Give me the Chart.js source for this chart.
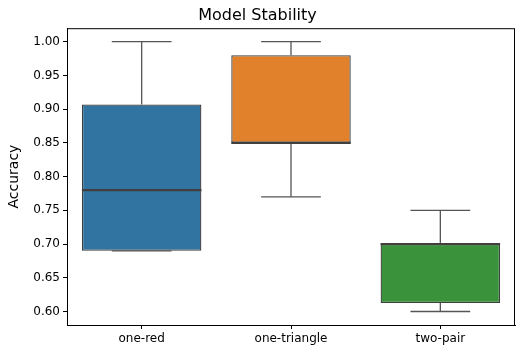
<!DOCTYPE html>
<html>
<head>
<meta charset="utf-8">
<script src="https://cdn.jsdelivr.net/npm/chart.js@4"></script>
<style>
  html, body { margin: 0; padding: 0; background: #fff; }
  #wrap { width: 516px; height: 347px; }
</style>
</head>
<body>
<div id="wrap"><canvas id="chart" width="516" height="347"></canvas></div>
<script>
// box plot stats per category
const categories = ['one-red', 'one-triangle', 'two-pair'];
const mins    = [0.69, 0.77, 0.60];
const q1s     = [0.69, 0.85, 0.6125];
const medians = [0.78, 0.85, 0.70];
const q3s     = [0.907, 0.98, 0.70];
const maxs    = [1.00, 1.00, 0.75];
const yTicks  = [0.60, 0.65, 0.70, 0.75, 0.80, 0.85, 0.90, 0.95, 1.00];
const boxColors = ['#3274a1', '#e1812c', '#3a923a'];

const FONT = "'DejaVu Sans', sans-serif";
const EDGE = '#3f3f3f';
const WHISKER = '#555555';

// whiskers, caps, medians and the full frame
const boxExtras = {
  id: 'boxExtras',
  afterDatasetsDraw(chart) {
    const ctx = chart.ctx;
    const x = chart.scales.x, y = chart.scales.y;
    const meta = chart.getDatasetMeta(0);
    ctx.save();
    categories.forEach((c, i) => {
      const bar = meta.data[i];
      const cx = x.getPixelForValue(i);
      const half = bar.width / 2;
      const capHalf = half / 2;
      ctx.strokeStyle = WHISKER;
      ctx.lineWidth = 1.3;
      ctx.beginPath();
      ctx.moveTo(cx, y.getPixelForValue(q3s[i]));
      ctx.lineTo(cx, y.getPixelForValue(maxs[i]));
      ctx.moveTo(cx, y.getPixelForValue(q1s[i]));
      ctx.lineTo(cx, y.getPixelForValue(mins[i]));
      ctx.moveTo(cx - capHalf, y.getPixelForValue(maxs[i]));
      ctx.lineTo(cx + capHalf, y.getPixelForValue(maxs[i]));
      ctx.moveTo(cx - capHalf, y.getPixelForValue(mins[i]));
      ctx.lineTo(cx + capHalf, y.getPixelForValue(mins[i]));
      ctx.stroke();
      ctx.strokeStyle = EDGE;
      ctx.lineWidth = 2.2;
      ctx.beginPath();
      ctx.moveTo(cx - half, y.getPixelForValue(medians[i]));
      ctx.lineTo(cx + half, y.getPixelForValue(medians[i]));
      ctx.stroke();
    });
    const a = chart.chartArea;
    ctx.strokeStyle = '#000';
    ctx.lineWidth = 1;
    ctx.strokeRect(a.left + 0.5, a.top + 0.5, a.right - a.left - 1, a.bottom - a.top);
    ctx.restore();
  }
};

new Chart(document.getElementById('chart'), {
  type: 'bar',
  data: {
    labels: categories,
    datasets: [{
      data: categories.map((c, i) => [q1s[i], q3s[i]]),
      backgroundColor: boxColors,
      borderColor: EDGE,
      borderWidth: 1.3,
      borderSkipped: false,
      categoryPercentage: 1.0,
      barPercentage: 0.8
    }]
  },
  options: {
    responsive: false,
    animation: false,
    layout: { padding: { left: 0, right: 1, top: 0, bottom: 0 } },
    plugins: {
      legend: { display: false },
      tooltip: { enabled: false },
      title: {
        display: true,
        text: 'Model Stability',
        color: '#000',
        font: { family: FONT, size: 16, weight: 'normal' },
        padding: { top: 6, bottom: 3 }
      }
    },
    scales: {
      x: {
        grid: { display: true, offset: false, drawOnChartArea: false, drawTicks: true, tickLength: 4, color: '#000' },
        border: { display: true, color: '#000' },
        ticks: { color: '#000', font: { family: FONT, size: 12 }, padding: 3, maxRotation: 0 },
        afterFit(s) { s.height = 22; }
      },
      y: {
        min: 0.58,
        max: 1.02,
        grid: { display: true, drawOnChartArea: false, drawTicks: true, tickLength: 4, color: '#000' },
        border: { display: true, color: '#000' },
        afterBuildTicks(s) { s.ticks = yTicks.map(v => ({ value: v })); },
        ticks: {
          color: '#000',
          font: { family: FONT, size: 12 },
          padding: 3,
          callback: v => Number(v).toFixed(2)
        },
        title: {
          display: true,
          text: 'Accuracy',
          color: '#000',
          font: { family: FONT, size: 14 },
          padding: { top: 6, bottom: 0 }
        },
        afterFit(s) { s.width = 67; }
      }
    }
  },
  plugins: [boxExtras]
});
</script>
</body>
</html>
